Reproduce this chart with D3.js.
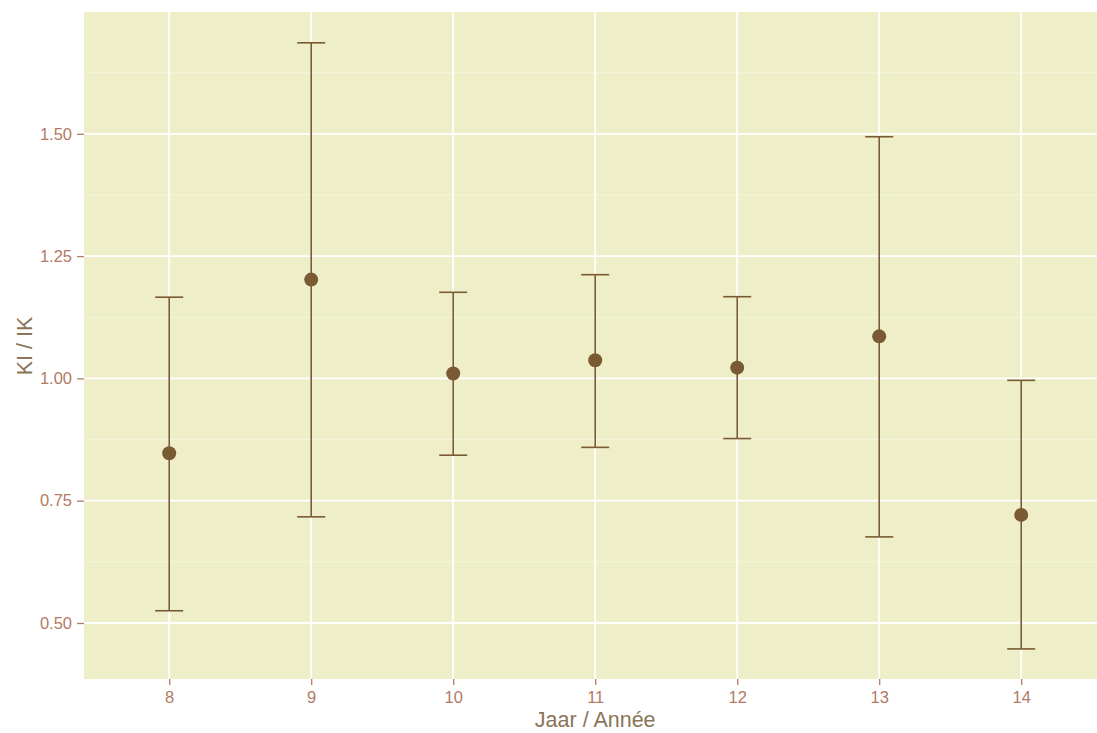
<!DOCTYPE html>
<html>
<head>
<meta charset="utf-8">
<script src="https://cdn.jsdelivr.net/npm/d3@7"></script>
<style>
  body { margin: 0; background: #fff; }
  svg { display: block; font-family: "Liberation Sans", Arial, sans-serif; }
</style>
</head>
<body>
<svg id="chart" width="1097" height="733"></svg>
<script>
// values
var years = [8, 9, 10, 11, 12, 13, 14];
var ratio = [0.847, 1.202, 1.010, 1.037, 1.022, 1.086, 0.721];
var lower = [0.525, 0.717, 0.843, 0.859, 0.877, 0.676, 0.447];
var upper = [1.166, 1.686, 1.176, 1.212, 1.167, 1.494, 0.996];
var yTicks = [0.50, 0.75, 1.00, 1.25, 1.50];
var yMinor = [0.375, 0.625, 0.875, 1.125, 1.375, 1.625];

var svg = d3.select("#chart");
var W = 1097, H = 733;
var margin = {top: 12, right: 0, bottom: 54, left: 84};
var pw = W - margin.left - margin.right, ph = H - margin.top - margin.bottom;

var x = d3.scaleLinear().domain([7.4, 14.6]).range([0, 7.2 * 142]);
var y = d3.scaleLinear().domain([0.3855, 1.749]).range([ph, 0]);

var g = svg.append("g").attr("transform", "translate(" + margin.left + "," + margin.top + ")");

g.append("clipPath").attr("id", "clip")
	.append("rect").attr("width", pw).attr("height", ph);

var panel = g.append("g").attr("clip-path", "url(#clip)");
panel.append("rect").attr("width", pw).attr("height", ph).attr("fill", "#EEEFC8");

// minor grid
panel.selectAll(".minor").data(yMinor).enter().append("line")
	.attr("x1", 0).attr("x2", pw)
	.attr("y1", function (d) { return y(d); }).attr("y2", function (d) { return y(d); })
	.attr("stroke", "#F4F4DC").attr("stroke-width", 1);

// major grid
panel.selectAll(".hmaj").data(yTicks).enter().append("line")
	.attr("x1", 0).attr("x2", pw)
	.attr("y1", function (d) { return y(d); }).attr("y2", function (d) { return y(d); })
	.attr("stroke", "#FFFFFF").attr("stroke-width", 1.8);
panel.selectAll(".vmaj").data(years).enter().append("line")
	.attr("y1", 0).attr("y2", ph)
	.attr("x1", function (d) { return x(d); }).attr("x2", function (d) { return x(d); })
	.attr("stroke", "#FFFFFF").attr("stroke-width", 1.8);

// error bars
var brown = "#7A5A33";
var bars = panel.selectAll(".bar").data(years).enter().append("g");
bars.append("line")
	.attr("x1", function (d) { return x(d); }).attr("x2", function (d) { return x(d); })
	.attr("y1", function (d, i) { return y(upper[i]); }).attr("y2", function (d, i) { return y(lower[i]); })
	.attr("stroke", brown).attr("stroke-width", 1.6);
[upper, lower].forEach(function (arr) {
	bars.append("line")
		.attr("x1", function (d) { return x(d) - 14; }).attr("x2", function (d) { return x(d) + 14; })
		.attr("y1", function (d, i) { return y(arr[i]); }).attr("y2", function (d, i) { return y(arr[i]); })
		.attr("stroke", brown).attr("stroke-width", 1.6);
});
bars.append("circle")
	.attr("cx", function (d) { return x(d); })
	.attr("cy", function (d, i) { return y(ratio[i]); })
	.attr("r", 7).attr("fill", brown);

// axes
var tickCol = "#B37A66";
var xAxis = g.append("g").attr("transform", "translate(0," + ph + ")")
	.call(d3.axisBottom(x).tickValues(years).tickSize(6).tickPadding(6).tickFormat(d3.format("d")));
var yAxis = g.append("g")
	.call(d3.axisLeft(y).tickValues(yTicks).tickSize(7).tickPadding(5).tickFormat(d3.format(".2f")));
[xAxis, yAxis].forEach(function (a) {
	a.select(".domain").remove();
	a.selectAll(".tick line").attr("stroke", tickCol).attr("stroke-width", 1.3);
	a.selectAll(".tick text").attr("fill", tickCol).attr("font-size", 16.5)
		.attr("font-family", "'Liberation Sans', Arial, sans-serif");
});

svg.append("text")
	.attr("x", margin.left + x(11)).attr("y", 727)
	.attr("text-anchor", "middle").attr("font-size", 21.5).attr("fill", "#8A7558")
	.text("Jaar / Année");
svg.append("text")
	.attr("transform", "translate(32,346) rotate(-90)")
	.attr("text-anchor", "middle").attr("font-size", 21.5).attr("fill", "#8A7558")
	.text("KI / IK");
</script>
</body>
</html>
